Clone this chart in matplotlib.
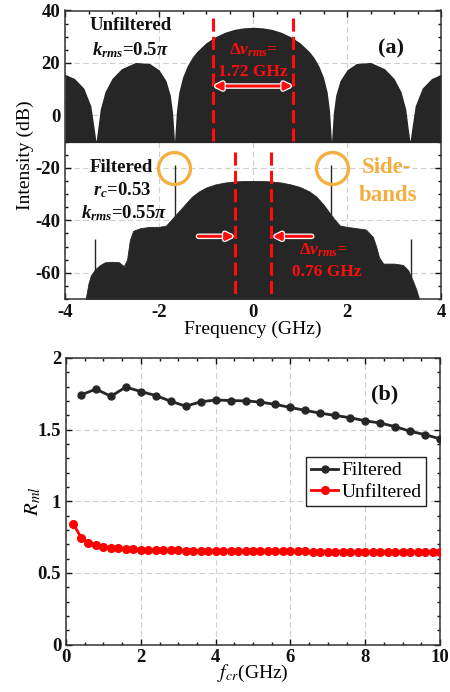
import matplotlib
matplotlib.use('Agg')
import matplotlib.pyplot as plt
import matplotlib.patheffects as pe
from matplotlib.ticker import MultipleLocator

plt.rcParams['font.family'] = ['Liberation Serif', 'DejaVu Serif']
plt.rcParams['mathtext.fontset'] = 'custom'
plt.rcParams['mathtext.rm'] = 'Liberation Serif:bold'
plt.rcParams['mathtext.it'] = 'Liberation Serif:italic:bold'
plt.rcParams['mathtext.bf'] = 'Liberation Serif:bold'
plt.rcParams['axes.unicode_minus'] = False

# ---------------- data: panel (a) ----------------
# unfiltered spectrum (positive half, mirrored), dB
unf_freq_pos = [0.0, 0.2, 0.4, 0.6, 0.8, 1.0, 1.2, 1.3, 1.4, 1.5, 1.58, 1.63, 1.67,
                1.71, 1.76, 1.85, 2.0, 2.2, 2.5, 2.8, 3.0, 3.15, 3.25, 3.30, 3.34,
                3.38, 3.45, 3.6, 3.8, 4.0]
unf_db_pos = [33.6, 33.4, 32.8, 31.7, 30.0, 27.7, 24.3, 22.0, 18.9, 14.5, 8.7, 1.4, -10,
              1.0, 7.7, 13.2, 17.4, 19.8, 20.2, 17.8, 14.1, 9.0, 2.4, -4.7, -10,
              -4.9, 3.6, 10.4, 14.1, 15.6]

# filtered spectrum envelope, dB
filt_freq = [-3.56, -3.50, -3.45, -3.35, -3.25, -3.15, -3.00, -2.85, -2.75, -2.68, -2.62,
             -2.55, -2.40, -2.20, -2.00, -1.85, -1.75, -1.65, -1.50, -1.40, -1.30, -1.15,
             -1.00, -0.80, -0.60, -0.40, -0.20, 0.00, 0.20, 0.40, 0.60, 0.80, 1.00, 1.20,
             1.35, 1.50, 1.64, 1.75, 1.85, 2.00, 2.20, 2.40, 2.55, 2.62, 2.68, 2.77, 3.00,
             3.19, 3.30, 3.40, 3.48, 3.53]
filt_db = [-70, -64, -61, -58.5, -57, -56, -55.8, -56, -57.5, -55, -47.5,
           -44, -43, -42.5, -42.5, -42, -40, -38, -35, -33, -31, -29,
           -27.5, -26.3, -25.6, -25.2, -25.0, -25.0, -25.0, -25.2, -25.6, -26.3, -27.3, -29,
           -31, -34, -37.4, -40, -42, -42.5, -43, -43.5, -46.3, -50, -54, -56.5, -56.5,
           -57, -59, -63, -66.7, -70]

# sideband spikes
spike_freq = [-3.36, -1.66, 1.66, 3.36]
spike_top = [-47.3, -19.0, -19.0, -47.3]

# ---------------- data: panel (b) ----------------
fcr_filt = [0.4, 0.8, 1.2, 1.6, 2.0, 2.4, 2.8, 3.2, 3.6, 4.0, 4.4, 4.8, 5.2, 5.6, 6.0,
            6.4, 6.8, 7.2, 7.6, 8.0, 8.4, 8.8, 9.2, 9.6, 10.0]
rml_filt = [1.742, 1.783, 1.733, 1.797, 1.766, 1.738, 1.698, 1.664, 1.694, 1.707, 1.703,
            1.701, 1.692, 1.676, 1.655, 1.634, 1.615, 1.599, 1.583, 1.562, 1.546, 1.521,
            1.489, 1.465, 1.436]

fcr_unf = [0.2, 0.4, 0.6, 0.8, 1.0, 1.2, 1.4, 1.6, 1.8, 2.0, 2.2, 2.4, 2.6, 2.8, 3.0,
           3.2, 3.4, 3.6, 3.8, 4.0, 4.2, 4.4, 4.6, 4.8, 5.0, 5.2, 5.4, 5.6, 5.8, 6.0,
           6.2, 6.4, 6.6, 6.8, 7.0, 7.2, 7.4, 7.6, 7.8, 8.0, 8.2, 8.4, 8.6, 8.8, 9.0,
           9.2, 9.4, 9.6, 9.8, 10.0]
rml_unf = [0.843, 0.746, 0.712, 0.694, 0.684, 0.677, 0.673, 0.668, 0.665, 0.663, 0.661,
           0.660, 0.659, 0.658, 0.657, 0.656, 0.655, 0.655, 0.654, 0.654, 0.653, 0.653,
           0.652, 0.652, 0.652, 0.651, 0.651, 0.651, 0.650, 0.650, 0.650, 0.650, 0.649,
           0.649, 0.649, 0.649, 0.649, 0.648, 0.648, 0.648, 0.648, 0.648, 0.648, 0.647,
           0.647, 0.647, 0.647, 0.647, 0.647, 0.647]

xticks_a = [-4, -2, 0, 2, 4]
yticks_a = [-60, -40, -20, 0, 20, 40]
xticks_b = [0, 2, 4, 6, 8, 10]
yticks_b = [0, 0.5, 1, 1.5, 2]
yticklabels_b = ['0', '0.5', '1', '1.5', '2']

DARK = '#262626'
RED = '#ff0d0d'
ORANGE = '#f5ae40'

fig = plt.figure(figsize=(4.5, 6.92), dpi=100)
W, H = 450, 692
ax1 = fig.add_axes([65 / W, 1 - 299 / H, (441 - 65) / W, (299 - 10.5) / H])
ax2 = fig.add_axes([66 / W, 1 - 644.6 / H, (440 - 66) / W, (644.6 - 358) / H])


def style_axes(ax):
    ax.tick_params(direction='in', which='both', top=True, right=True,
                   labelsize=13.5, colors='#111111', width=1)
    ax.tick_params(which='major', length=4)
    ax.tick_params(which='minor', length=2.5)
    for s in ax.spines.values():
        s.set_linewidth(1.1)
        s.set_color('#333333')
    for lbl in ax.get_xticklabels() + ax.get_yticklabels():
        lbl.set_fontweight('bold')
    ax.set_axisbelow(True)
    ax.grid(True, which='major', ls=(0, (5, 3)), color='#cfcfcf', lw=0.8)


# ---------------- panel (a) ----------------
unf_freq = [-f for f in reversed(unf_freq_pos[1:])] + unf_freq_pos
unf_db = list(reversed(unf_db_pos[1:])) + unf_db_pos
ax1.fill_between(unf_freq, -10, unf_db, color=DARK, lw=0, zorder=2)
ax1.fill_between(filt_freq, -70, filt_db, color=DARK, lw=0.6, edgecolor=DARK, zorder=2)
ax1.vlines(spike_freq, -70, spike_top, color=DARK, lw=1.0, zorder=2)
ax1.axhline(-10, color=DARK, lw=1.6, zorder=3)

ax1.set_xlim(-4, 4)
ax1.set_ylim(-70, 40)
ax1.set_xticks(xticks_a)
ax1.set_yticks(yticks_a)
ax1.xaxis.set_minor_locator(MultipleLocator(0.5))
ax1.yaxis.set_minor_locator(MultipleLocator(5))
style_axes(ax1)
ax1.set_xlabel('Frequency (GHz)', fontsize=14)
ax1.xaxis.set_label_coords(0.5, -0.075)
ax1.set_ylabel('Intensity (dB)', fontsize=14)
ax1.yaxis.set_label_coords(-0.083, 0.5)

dash = (0, (4.3, 1.7))
ax1.plot([-0.86, -0.86], [37, -10], color=RED, lw=2.2, ls=dash, zorder=4)
ax1.plot([0.86, 0.86], [37, -10], color=RED, lw=2.2, ls=dash, zorder=4)
ax1.plot([-0.38, -0.38], [-13.9, -70], color=RED, lw=2.2, ls=dash, zorder=4)
ax1.plot([0.38, 0.38], [-13.9, -70], color=RED, lw=2.2, ls=dash, zorder=4)

outline = [pe.withStroke(linewidth=4, foreground='white')]
ax1.annotate('', xy=(0.84, 11.2), xytext=(-0.84, 11.2),
             arrowprops=dict(arrowstyle='<|-|>', color=RED, lw=2.2, mutation_scale=11,
                             shrinkA=0, shrinkB=0, path_effects=outline), zorder=5)
ax1.annotate('', xy=(-0.40, -46.1), xytext=(-1.16, -46.1),
             arrowprops=dict(arrowstyle='-|>', color=RED, lw=2.2, mutation_scale=11,
                             shrinkA=0, shrinkB=0, path_effects=outline), zorder=5)
ax1.annotate('', xy=(0.42, -46.1), xytext=(1.25, -46.1),
             arrowprops=dict(arrowstyle='-|>', color=RED, lw=2.2, mutation_scale=11,
                             shrinkA=0, shrinkB=0, path_effects=outline), zorder=5)

tkw = dict(ha='center', va='center', fontweight='bold', zorder=6, math_fontfamily='custom')
ax1.text(-2.6, 34.2, 'Unfiltered', fontsize=13.5, color='#111111', **tkw)
ax1.text(-2.6, 25.0, r'$k_{rms}$=0.5$\pi$', fontsize=13.5, color='#111111', **tkw)
ax1.text(2.94, 25.4, '(a)', fontsize=16, color='#111111', **tkw)
ax1.text(0.0, 25.0, r'$\Delta v_{rms}$=', fontsize=12.5, color=RED, **tkw)
ax1.text(0.0, 16.7, '1.72 GHz', fontsize=12.5, color=RED, **tkw)

ax1.text(-2.79, -19.7, 'Filtered', fontsize=13.5, color='#111111', **tkw)
ax1.text(-2.79, -28.5, r'$r_c$=0.53', fontsize=13.5, color='#111111', **tkw)
ax1.text(-2.74, -37.4, r'$k_{rms}$=0.55$\pi$', fontsize=13.5, color='#111111', **tkw)
ax1.text(2.84, -20.0, 'Side-', fontsize=16.5, color=ORANGE, **tkw)
ax1.text(2.87, -30.4, 'bands', fontsize=16.5, color=ORANGE, **tkw)
ax1.text(1.50, -51.4, r'$\Delta v_{rms}$=', fontsize=12.5, color=RED, **tkw)
ax1.text(1.57, -59.7, '0.76 GHz', fontsize=12.5, color=RED, **tkw)

ax1.plot([-1.68, 1.69], [-19.9, -19.9], ls='none', marker='o', ms=23, mfc='none',
         mec=ORANGE, mew=2.4, zorder=5)

# ---------------- panel (b) ----------------
ax2.plot(fcr_filt, rml_filt, color=DARK, lw=2.0, marker='o', ms=5, label='Filtered', zorder=3)
ax2.plot(fcr_unf, rml_unf, color='#ff0000', lw=2.0, marker='o', ms=5.5, label='Unfiltered', zorder=3)
ax2.set_xlim(0, 10)
ax2.set_ylim(0, 2)
ax2.set_xticks(xticks_b)
ax2.set_yticks(yticks_b)
ax2.set_yticklabels(yticklabels_b)
ax2.xaxis.set_minor_locator(MultipleLocator(0.5))
ax2.yaxis.set_minor_locator(MultipleLocator(0.1))
style_axes(ax2)
ax2.set_xlabel(r'$f_{cr}$(GHz)', fontsize=14, math_fontfamily='stix')
ax2.xaxis.set_label_coords(0.5, -0.065)
ax2.set_ylabel(r'$R_{ml}$', fontsize=15, math_fontfamily='stix')
ax2.yaxis.set_label_coords(-0.062, 0.5)
ax2.text(8.53, 1.747, '(b)', fontsize=16, color='#111111', **tkw)

leg = ax2.legend(loc='upper right', bbox_to_anchor=(0.963, 0.655), fontsize=14,
                 handlelength=1.4, handletextpad=0.15, borderpad=0.25, labelspacing=0.2,
                 fancybox=False, framealpha=1, edgecolor='#222222', borderaxespad=0)
leg.get_frame().set_linewidth(1.0)

fig.savefig('out.png', dpi=100)
